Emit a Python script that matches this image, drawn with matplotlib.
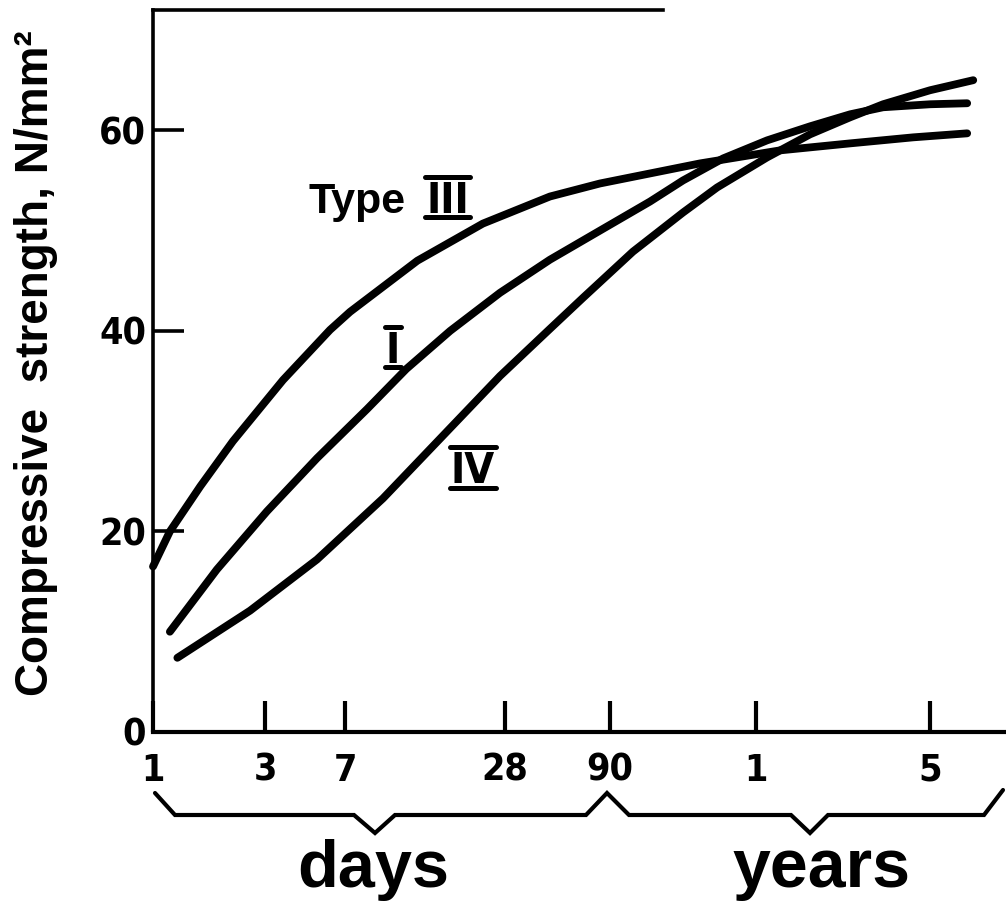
import numpy as np
import matplotlib
matplotlib.use('Agg')
import matplotlib.pyplot as plt
from matplotlib.lines import Line2D
from matplotlib.textpath import TextPath
from matplotlib import font_manager as fm

# ---------------- data ----------------
type_iii_days = [1, 1.18, 1.59, 2.19, 3.63, 5.97, 7.31, 13.1, 23.1, 46.1, 80.4, 213, 455,
                 871, 1559, 2570]
type_iii_str = [16.5, 20.0, 24.5, 29.0, 35.1, 40.1, 41.9, 47.0, 50.7, 53.4, 54.7, 56.7, 58.0,
                58.7, 59.3, 59.7]

type_i_days = [1.18, 1.87, 3.06, 5.20, 8.47, 11.9, 17.4, 26.8, 46.1, 80.4, 132, 181, 266, 404,
               601, 871, 1181, 1825, 2570]
type_i_str = [10.0, 16.2, 22.0, 27.3, 32.2, 36.2, 40.0, 43.8, 47.1, 50.0, 52.9, 55.0, 57.2,
              59.0, 60.4, 61.6, 62.3, 62.6, 62.7]

type_iv_days = [1.27, 2.59, 5.20, 9.73, 17.4, 26.8, 46.1, 66.6, 112, 181, 251, 404, 601, 871,
                1181, 1825, 2718]
type_iv_str = [7.4, 12.1, 17.2, 23.3, 30.3, 35.5, 40.2, 43.3, 47.9, 51.8, 54.3, 57.3, 59.6,
               61.3, 62.6, 64.0, 65.0]

tick_days = [1, 3, 7, 28, 90, 365, 1825]
tick_labels = ['1', '3', '7', '28', '90', '1', '5']
y_ticks = [0, 20, 40, 60]
y_tick_labels = ['0', '20', '40', '60']

# ---------------- non-uniform age axis as printed in the original ----------------
_la = np.log10(tick_days)
_pa = np.array([0, 112, 192, 352, 457, 603, 777], float)
LA = np.concatenate([[-2.0], _la, [6.0]])
PA = np.concatenate([[-2 * 234.8], _pa, [777 + (6.0 - _la[-1]) * 249.0]])


def fwd(x):
    x = np.asarray(x, float)
    lx = np.log10(np.clip(x, 1e-6, None))
    return np.interp(lx, LA, PA)


def inv(p):
    p = np.asarray(p, float)
    return 10 ** np.interp(p, PA, LA)


def pick(names):
    for n in names:
        try:
            fm.findfont(fm.FontProperties(family=n), fallback_to_default=False)
            return n
        except Exception:
            pass
    return 'DejaVu Sans'


NARROW = pick(['Liberation Sans Narrow', 'DejaVu Sans'])
SANS = pick(['Liberation Sans', 'DejaVu Sans'])
stretch = 'condensed' if NARROW == 'DejaVu Sans' else 'normal'

fp_tick = fm.FontProperties(family=NARROW, weight='bold', size=27, stretch=stretch)
fp_num = fm.FontProperties(family=NARROW, weight='bold', size=31, stretch=stretch)

W, H = 1006, 906
fig = plt.figure(figsize=(W / 100, H / 100), dpi=100)
ax = fig.add_axes([153 / W, 1 - 732 / H, 853 / W, 722 / H])
ax.set_xscale('function', functions=(fwd, inv))
ax.set_xlim(1, 3680)
ax.set_ylim(0, 72)

lw = 5.6
for d, s in [(type_iii_days, type_iii_str), (type_i_days, type_i_str),
             (type_iv_days, type_iv_str)]:
    ax.plot(d, s, color='black', lw=lw, solid_capstyle='round',
            solid_joinstyle='round', clip_on=False)

# spines
ax.spines['right'].set_visible(False)
ax.spines['left'].set_linewidth(2.6)
ax.spines['bottom'].set_linewidth(3.0)
ax.spines['top'].set_linewidth(2.6)
ax.spines['top'].set_bounds(1, 150)

ax.set_xticks(tick_days)
ax.set_xticklabels(tick_labels)
ax.xaxis.set_minor_locator(matplotlib.ticker.NullLocator())
ax.set_yticks(y_ticks)
ax.set_yticklabels(y_tick_labels)
ax.yaxis.set_minor_locator(matplotlib.ticker.NullLocator())
ax.tick_params(axis='x', direction='in', length=22, width=3, pad=15, top=False)
ax.tick_params(axis='y', direction='in', length=22, width=2.6, pad=5, right=False)
for t in ax.get_xticklabels() + ax.get_yticklabels():
    t.set_fontproperties(fp_tick)

# y label
fig.text(36 / W, 1 - 363 / H, 'Compressive  strength, N/mm²', rotation=90,
         ha='center', va='center', family=SANS, weight='bold', fontsize=33)

# curve labels
ax.text(11.8, 51.8, 'Type', ha='right', va='baseline', family=SANS,
        weight='bold', fontsize=31)
numerals = [(17.0, 51.8, 'III'), (10.6, 36.8, 'I'), (21.2, 24.8, 'IV')]
num_texts = []
for x, y, s in numerals:
    t = ax.text(x, y, s, ha='center', va='baseline', fontproperties=fp_num, clip_on=False)
    num_texts.append((x, y, t))

# brace under the axis
brace_px = [(155, 793), (175, 815), (354, 815), (375, 833), (395, 815), (586, 815),
            (607, 793), (629, 815), (791, 815), (810, 833), (828, 815), (984, 815),
            (1003, 790)]
bx = [p[0] / W for p in brace_px]
by = [1 - p[1] / H for p in brace_px]
fig.add_artist(Line2D(bx, by, transform=fig.transFigure, color='black', lw=3.0,
                      solid_joinstyle='miter', solid_capstyle='round'))

fig.text(373 / W, 1 - 887 / H, 'days', ha='center', va='baseline', family=SANS,
         weight='bold', fontsize=48)
fig.text(821 / W, 1 - 887 / H, 'years', ha='center', va='baseline', family=SANS,
         weight='bold', fontsize=49)

# over/under bars of the roman numerals
fig.canvas.draw()
renderer = fig.canvas.get_renderer()
cap_px = TextPath((0, 0), 'I', prop=fp_num).get_extents().height * 100 / 72
gap = 4.5
to_fig = fig.transFigure.inverted()
for x, y, t in num_texts:
    bb = t.get_window_extent(renderer)
    xb, yb = ax.transData.transform((x, y))
    for yy in (yb - gap, yb + cap_px + gap):
        p0 = to_fig.transform((bb.x0 - 1, yy))
        p1 = to_fig.transform((bb.x1 + 1, yy))
        fig.add_artist(Line2D([p0[0], p1[0]], [p0[1], p1[1]], transform=fig.transFigure,
                              color='black', lw=3.6, solid_capstyle='round'))

fig.savefig('out.png', dpi=100)
